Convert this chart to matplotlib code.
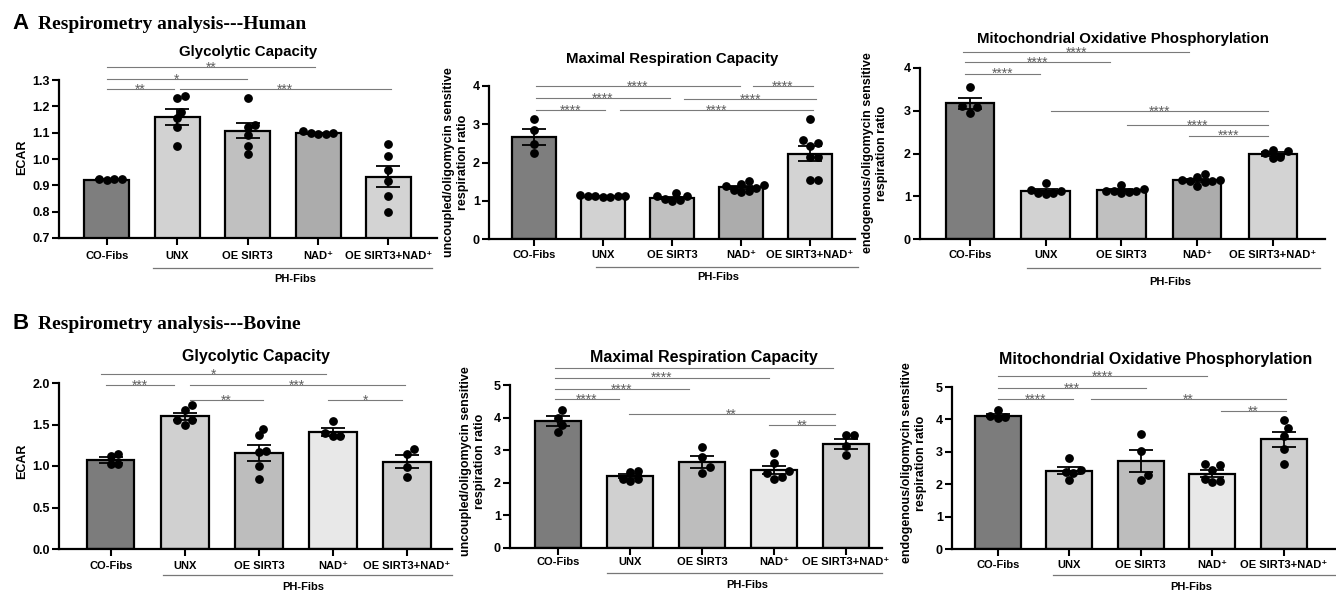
import numpy as np
import matplotlib
matplotlib.use('Agg')
import matplotlib.pyplot as plt
from matplotlib import transforms

plt.rcParams['font.family'] = ['Liberation Sans', 'DejaVu Sans']
plt.rcParams['font.weight'] = 'bold'

groups = ['CO-Fibs', 'UNX', 'OE SIRT3', 'NAD⁺', 'OE SIRT3+NAD⁺']

# ---- A: human ----
hg_pts = [[0.92, 0.925, 0.925, 0.925],
          [1.23, 1.24, 1.18, 1.155, 1.12, 1.05],
          [1.23, 1.13, 1.12, 1.09, 1.05, 1.02],
          [1.095, 1.105, 1.10, 1.095, 1.10],
          [1.056, 1.01, 0.957, 0.915, 0.86, 0.80]]
hg_mean = [0.922, 1.159, 1.108, 1.097, 0.933]
hg_sem = [0.003, 0.03, 0.03, 0.003, 0.039]
hg_sig = [(0, 2.96, 1.35, '**'), (0, 1.99, 1.304, '*'),
          (0, 0.95, 1.266, '**'), (1.04, 4.03, 1.266, '***')]

hm_pts = [[3.15, 2.85, 2.48, 2.24],
          [1.09, 1.13, 1.14, 1.12, 1.12, 1.11, 1.12],
          [1.05, 1.13, 1.19, 1.02, 1.12, 1.00],
          [1.25, 1.38, 1.45, 1.52, 1.33, 1.28, 1.40, 1.22],
          [3.14, 2.59, 2.50, 2.44, 2.15, 2.15, 1.53, 1.53]]
hm_mean = [2.67, 1.11, 1.08, 1.35, 2.23]
hm_sem = [0.2, 0.012, 0.03, 0.04, 0.19]
hm_sig = [(0.03, 2.98, 4.0, '****'), (3.17, 4.04, 4.0, '****'),
          (0.03, 1.97, 3.69, '****'), (2.18, 4.09, 3.65, '****'),
          (0.03, 1.03, 3.37, '****'), (1.24, 4.04, 3.37, '****')]

hx_pts = [[3.56, 3.10, 3.08, 2.95],
          [1.08, 1.14, 1.30, 1.05, 1.12, 1.07],
          [1.10, 1.16, 1.13, 1.13, 1.12, 1.26, 1.08],
          [1.52, 1.37, 1.36, 1.34, 1.36, 1.45, 1.24, 1.38],
          [2.06, 1.90, 2.08, 1.92, 2.02]]
hx_mean = [3.17, 1.12, 1.14, 1.37, 1.99]
hx_sem = [0.13, 0.04, 0.025, 0.03, 0.04]
hx_sig = [(-0.09, 2.9, 4.37, '****'), (-0.07, 1.85, 4.13, '****'),
          (-0.07, 0.92, 3.87, '****'), (1.07, 3.94, 3.0, '****'),
          (2.07, 3.94, 2.66, '****'), (2.9, 3.94, 2.42, '****')]

# ---- B: bovine ----
bg_pts = [[1.12, 1.14, 1.02, 1.02],
          [1.73, 1.68, 1.50, 1.55, 1.56],
          [1.37, 1.45, 1.17, 1.18, 1.00, 0.84],
          [1.54, 1.36, 1.36, 1.40],
          [1.21, 1.15, 0.99, 0.87]]
bg_mean = [1.07, 1.60, 1.16, 1.41, 1.05]
bg_sem = [0.035, 0.04, 0.095, 0.05, 0.08]
bg_sig = [(-0.13, 2.91, 2.11, '*'), (-0.07, 0.86, 1.97, '***'),
          (1.07, 3.97, 1.97, '***'), (1.07, 2.06, 1.79, '**'),
          (2.94, 3.93, 1.79, '*')]

bm_pts = [[4.22, 4.00, 3.78, 3.57],
          [2.34, 2.37, 2.05, 2.12, 2.12],
          [3.10, 2.80, 2.30, 2.49],
          [2.90, 2.62, 2.35, 2.30, 2.12, 2.18],
          [3.46, 3.46, 3.12, 2.85]]
bm_mean = [3.89, 2.21, 2.64, 2.39, 3.19]
bm_sem = [0.15, 0.06, 0.18, 0.12, 0.15]
bm_sig = [(-0.05, 3.82, 5.53, ''), (-0.05, 2.93, 5.23, '****'),
          (-0.05, 1.82, 4.87, '****'), (-0.05, 0.85, 4.56, '****'),
          (0.98, 3.84, 4.11, '**'), (2.93, 3.84, 3.77, '**')]

bx_pts = [[4.05, 4.12, 4.29, 4.06],
          [2.81, 2.45, 2.14, 2.38, 2.35],
          [3.55, 3.01, 2.14, 2.29],
          [2.60, 2.63, 2.45, 2.06, 2.17, 2.11],
          [3.97, 3.72, 3.50, 3.10, 2.62]]
bx_mean = [4.12, 2.42, 2.72, 2.33, 3.38]
bx_sem = [0.05, 0.12, 0.33, 0.1, 0.24]
bx_sig = [(0, 2.93, 5.33, '****'), (0, 2.07, 4.97, '***'),
          (0, 1.05, 4.63, '****'), (1.30, 4.03, 4.63, '**'),
          (3.12, 4.03, 4.25, '**')]

colors_a = ['#7e7e7e', '#d2d2d2', '#c0c0c0', '#acacac', '#d3d3d3']
colors_b = ['#7c7c7c', '#d0d0d0', '#bdbdbd', '#e8e8e8', '#cfcfcf']

W, H = 1336, 592
fig = plt.figure(figsize=(W / 100, H / 100), dpi=100)


def px_axes(l, t, r, b):
    return fig.add_axes([l / W, 1 - b / H, (r - l) / W, (b - t) / H])


def swarm(vals, ppu, spacing_px, diam=7.5):
    vals = np.asarray(vals, dtype=float)
    offs = np.zeros(len(vals))
    placed = []
    step = diam / 2
    for i in np.argsort(vals):
        y = vals[i] * ppu
        done = False
        for k in range(40):
            for cand in ([0.0] if k == 0 else [k * step, -k * step]):
                if all((cand - px) ** 2 + (y - py) ** 2 >= diam ** 2 for px, py in placed):
                    placed.append((cand, y))
                    offs[i] = cand / spacing_px
                    done = True
                    break
            if done:
                break
    return offs


def panel(box, xlim, ylim, yticks, yfmt, pts, mean, sem, sig, colors, title,
          title_pad, title_size, title_x, lab_pad, ph, ylabel, ylab_xy):
    l, t, r, b = box
    ax = px_axes(l, t, r, b)
    x = np.arange(len(groups))
    ax.bar(x, mean, width=0.64, color=colors, edgecolor='black', linewidth=1.6, zorder=2)
    ax.errorbar(x, mean, yerr=sem, fmt='none', ecolor='black', elinewidth=1.3,
                capsize=8.5, capthick=1.3, zorder=3)
    spacing_px = (r - l) / (xlim[1] - xlim[0])
    ppu = (b - t) / (ylim[1] - ylim[0])
    for i, p in enumerate(pts):
        offs = swarm(p, ppu, spacing_px)
        ax.scatter(i + offs, p, s=28, color='black', zorder=4, clip_on=False)
    for x0, x1, y, lab in sig:
        ax.plot([x0, x1], [y, y], color='#7a7a7a', lw=0.8, clip_on=False, zorder=1)
        if lab:
            ax.annotate(lab, ((x0 + x1) / 2, y), xytext=(0, -3.4), textcoords='offset points',
                        ha='center', va='baseline', fontsize=10, color='#606060',
                        fontweight='normal', annotation_clip=False)
    ax.set_xlim(*xlim)
    ax.set_ylim(*ylim)
    ax.set_yticks(yticks)
    ax.set_yticklabels([yfmt % v for v in yticks])
    ax.set_xticks(x)
    ax.set_xticklabels(groups)
    for s in ['top', 'right']:
        ax.spines[s].set_visible(False)
    for s in ['left', 'bottom']:
        ax.spines[s].set_linewidth(1.6)
    ax.tick_params(axis='y', length=5, width=1.5, labelsize=9, pad=1.5)
    ax.tick_params(axis='x', length=5, width=1.5, labelsize=8, pad=lab_pad)
    ax.set_title(title, fontsize=title_size, fontweight='bold', pad=title_pad, x=title_x)
    # PH-Fibs bracket
    x0, x1, xt, dy_line, dy_text = ph
    base = transforms.blended_transform_factory(ax.transData, ax.transAxes)
    tl = transforms.offset_copy(base, fig=fig, x=0, y=-dy_line, units='dots')
    ax.plot([x0, x1], [0, 0], transform=tl, color='#777777', lw=0.9, clip_on=False)
    tt = transforms.offset_copy(base, fig=fig, x=0, y=-dy_text, units='dots')
    ax.text(xt, 0, 'PH-Fibs', transform=tt, ha='center', va='center', fontsize=8,
            fontweight='bold')
    fig.text(ylab_xy[0] / W, 1 - ylab_xy[1] / H, ylabel, rotation=90, ha='center',
             va='center', fontsize=9, fontweight='bold', linespacing=1.15,
             multialignment='center')
    return ax


unc = 'uncoupled/oligomycin sensitive\nrespiration ratio'
endo = 'endogenous/oligomycin sensitive\nrespiration ratio'

panel((59, 80, 437, 238), (-0.68, 4.69), (0.7, 1.3), np.arange(0.7, 1.31, 0.1), '%.1f',
      hg_pts, hg_mean, hg_sem, hg_sig, colors_a, 'Glycolytic Capacity', 17, 10.8, 0.5,
      4.5, (0.65, 4.62, 2.67, 30, 41), 'ECAR', (22, 157))
panel((489, 86, 855, 239), (-0.65, 4.65), (0, 4), np.arange(0, 5, 1), '%d',
      hm_pts, hm_mean, hm_sem, hm_sig, colors_a, 'Maximal Respiration Capacity', 16.5, 10.8,
      0.5, 3, (0.9, 4.7, 2.67, 28, 38), unc, (456, 162))
panel((920, 68, 1325, 239), (-0.66, 4.69), (0, 4), np.arange(0, 5, 1), '%d',
      hx_pts, hx_mean, hx_sem, hx_sig, colors_a, 'Mitochondrial Oxidative Phosphorylation',
      18, 10.8, 0.5, 3, (0.75, 4.62, 2.64, 29, 43), endo, (875, 153))

panel((59, 383, 452, 549), (-0.70, 4.61), (0, 2.0), np.arange(0, 2.01, 0.5), '%.1f',
      bg_pts, bg_mean, bg_sem, bg_sig, colors_b, 'Glycolytic Capacity', 15.5, 11.5, 0.5,
      3.5, (0.7, 4.61, 2.6, 26, 38), 'ECAR', (22, 461))
panel((510, 385, 882, 548), (-0.67, 4.5), (0, 5), np.arange(0, 6, 1), '%d',
      bm_pts, bm_mean, bm_sem, bm_sig, colors_b, 'Maximal Respiration Capacity', 16.5, 11.5,
      0.52, 1.5, (0.68, 4.5, 2.63, 25, 37), unc, (473, 461))
panel((952, 387, 1336, 549), (-0.64, 4.73), (0, 5), np.arange(0, 6, 1), '%d',
      bx_pts, bx_mean, bx_sem, bx_sig, colors_b, 'Mitochondrial Oxidative Phosphorylation',
      16.5, 11.5, 0.53, 3, (0.77, 4.73, 2.71, 26, 38), endo, (914, 463))

# panel headers
fig.text(12 / W, 1 - 29 / H, 'A', fontsize=16, fontweight='bold', va='baseline')
fig.text(38 / W, 1 - 29 / H, 'Respirometry analysis---Human', fontsize=14,
         fontweight='bold', family='Liberation Serif', va='baseline')
fig.text(12 / W, 1 - 329 / H, 'B', fontsize=16, fontweight='bold', va='baseline')
fig.text(38 / W, 1 - 329 / H, 'Respirometry analysis---Bovine', fontsize=14,
         fontweight='bold', family='Liberation Serif', va='baseline')

fig.savefig('out.png', dpi=100)
